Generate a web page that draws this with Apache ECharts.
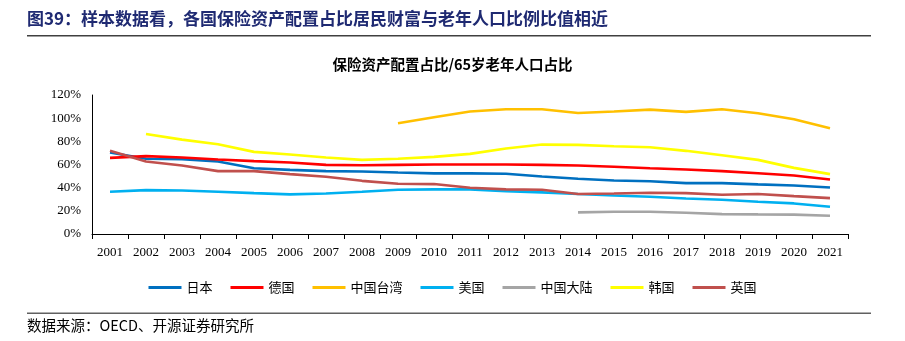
<!DOCTYPE html>
<html><head><meta charset="utf-8">
<script src="https://cdn.jsdelivr.net/npm/echarts@6/dist/echarts.min.js"></script>
<style>html,body{margin:0;padding:0;background:#fff}#c{width:905px;height:341px}</style>
</head><body><div id="c"></div>
<script>
const years = ['2001','2002','2003','2004','2005','2006','2007','2008','2009','2010','2011','2012','2013','2014','2015','2016','2017','2018','2019','2020','2021'];
const japan   = [70.3,64.9,64.6,62.6,56.8,55.4,54.3,54.0,53.1,52.3,52.3,52.0,49.7,47.7,46.2,45.6,43.9,43.9,42.8,41.9,40.2];
const germany = [65.7,67.2,66.0,64.3,62.9,61.7,59.7,59.4,59.7,60.0,60.0,60.0,59.7,59.1,58.0,56.8,55.7,54.3,52.5,50.5,47.1];
const taiwan  = [null,null,null,null,null,null,null,null,95.6,100.8,105.7,107.7,107.7,104.5,105.7,107.4,105.4,107.7,104.2,99.0,91.3];
const usa     = [36.5,37.9,37.6,36.5,35.3,34.2,35.0,36.5,38.2,38.5,38.5,37.0,35.9,34.5,33.3,32.2,30.7,29.6,27.8,26.4,23.5];
const mainland= [null,null,null,null,null,null,null,null,null,null,null,null,null,18.7,19.2,19.2,18.4,17.2,16.9,16.7,15.8];
const korea   = [null,86.4,81.5,77.5,70.9,68.6,66.0,64.0,64.9,66.6,69.2,73.8,77.2,76.9,75.8,74.9,71.8,68.0,64.0,57.1,51.7];
const uk      = [71.8,62.6,59.1,54.3,54.3,51.7,49.4,45.9,43.4,43.1,39.9,38.5,38.2,34.5,35.0,35.6,35.3,33.9,34.5,32.7,31.0];
const names = ['日本','德国','中国台湾','美国','中国大陆','韩国','英国'];
const values = [japan,germany,taiwan,usa,mainland,korea,uk];
const colors = ['#0070C0','#FF0000','#FFC000','#00B0F0','#A5A5A5','#FFFF00','#C0504D'];
const yTicks = [0,20,40,60,80,100,120];

const serif = '"Liberation Serif","Times New Roman",serif';
const cjk = '"Noto Sans CJK SC","Liberation Serif",serif';
const chart = echarts.init(document.getElementById('c'));
chart.setOption({
  animation:false,
  backgroundColor:'#fff',
  grid:{left:92,right:57,top:95,bottom:107},
  legend:{
    data:names, top:276, left:'center', itemWidth:33, itemHeight:3, itemGap:18,
    icon:'rect',
    textStyle:{fontFamily:cjk,fontSize:13,color:'#000'}
  },
  xAxis:{
    type:'category', data:years, boundaryGap:true,
    axisLine:{lineStyle:{color:'#000',width:1}},
    axisTick:{show:true,length:5,lineStyle:{color:'#000'},alignWithLabel:false},
    axisLabel:{fontFamily:serif,fontSize:13,color:'#000',margin:12,interval:0}
  },
  yAxis:{
    type:'value', min:yTicks[0], max:yTicks[yTicks.length-1], interval:20,
    axisLine:{show:true,lineStyle:{color:'#000',width:1}},
    axisTick:{show:false},
    splitLine:{show:false},
    axisLabel:{fontFamily:serif,fontSize:13,color:'#000',margin:11,formatter:v=>v+'%'}
  },
  series: names.map((n,i)=>({
    name:n, type:'line', data:values[i], symbol:'none', smooth:false,
    lineStyle:{color:colors[i],width:2.6}, itemStyle:{color:colors[i]}
  })),
  graphic:[
    {type:'text',left:27,top:10,style:{text:'图39：样本数据看，各国保险资产配置占比居民财富与老年人口比例比值相近',fontFamily:cjk,fontSize:17,fontWeight:'bold',fill:'#1F2A72'}},
    {type:'rect',shape:{x:27,y:35,width:844,height:1.5},style:{fill:'#404040'}},
    {type:'text',left:'center',top:57,style:{text:'保险资产配置占比/65岁老年人口占比',fontFamily:cjk,fontSize:14.5,fontWeight:'bold',fill:'#000'}},
    {type:'rect',shape:{x:27,y:312.5,width:844,height:1.5},style:{fill:'#606060'}},
    {type:'text',left:27,top:318,style:{text:'数据来源：OECD、开源证券研究所',fontFamily:cjk,fontSize:14.5,fill:'#000'}}
  ]
});
</script></body></html>
